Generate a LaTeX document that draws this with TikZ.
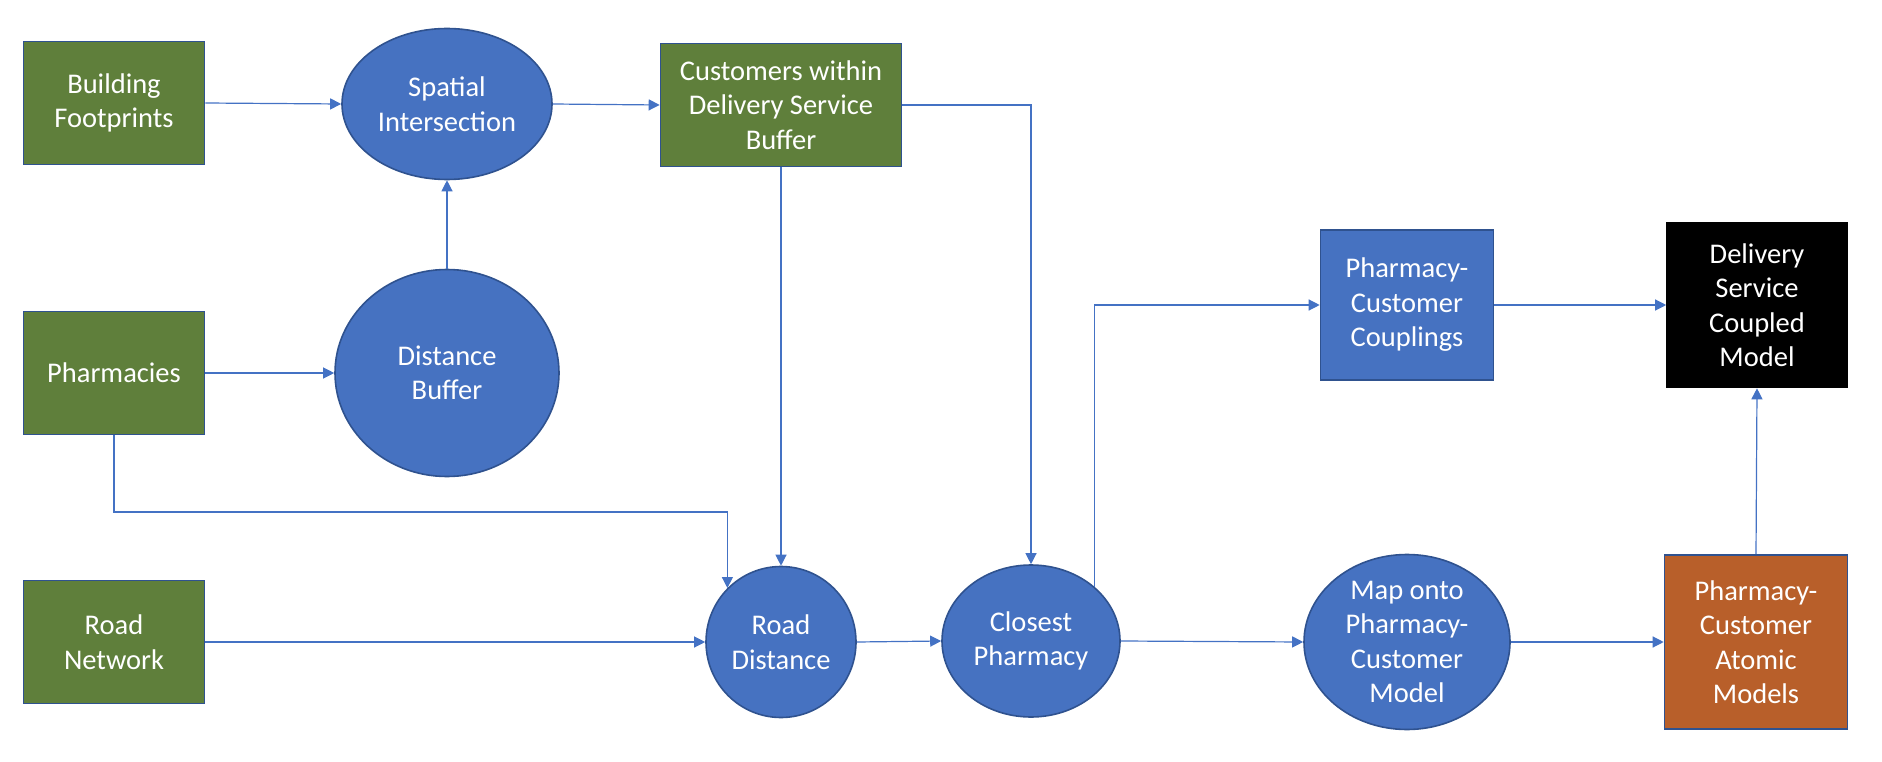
\documentclass[tikz,border=0pt]{standalone}
\usepackage{fontspec}
\setmainfont{Carlito}
\usetikzlibrary{shapes.geometric,arrows.meta}
\definecolor{nodeblue}{HTML}{4672C1}
\definecolor{edgeblue}{HTML}{2F528F}
\definecolor{linkblue}{HTML}{4472C4}
\definecolor{datagreen}{HTML}{5F7F3B}
\definecolor{modelorange}{HTML}{B85F2A}
\tikzset{
  base/.style={draw=edgeblue, line width=1.6pt, text=white, align=center, inner sep=0pt,
    font=\fontsize{28.5}{34.5}\selectfont},
  databox/.style={base, rectangle, fill=datagreen},
  procbox/.style={base, rectangle, fill=nodeblue},
  proc/.style={base, ellipse, fill=nodeblue},
  blackbox/.style={base, rectangle, fill=black, draw=black},
  orangebox/.style={base, rectangle, fill=modelorange},
  conn/.style={draw=linkblue, line width=1.2pt, -{Triangle[length=11pt,width=11pt]}},
}
\begin{document}
\begin{tikzpicture}[x=1pt,y=-1pt]
\useasboundingbox (0,0) rectangle (1882,762);
% data boxes
\node[databox, minimum width=181pt, minimum height=123pt] (bf) at (114,103) {Building\\Footprints};
\node[databox, minimum width=181pt, minimum height=123pt] (ph) at (114,373) {Pharmacies};
\node[databox, minimum width=181pt, minimum height=123pt] (rn) at (114,642) {Road\\Network};
\node[databox, minimum width=241pt, minimum height=123pt] (cust) at (781,105) {Customers within\\Delivery Service\\Buffer};
% processes
\node[proc, minimum width=210pt, minimum height=151pt] (si) at (447,104) {Spatial\\Intersection};
\node[proc, minimum width=224pt, minimum height=207pt] (db) at (447,373) {Distance\\Buffer};
\node[proc, minimum width=150pt, minimum height=151pt] (rd) at (781,642) {Road\\Distance};
\node[proc, minimum width=178pt, minimum height=152pt] (cp) at (1031,641) {Closest\\Pharmacy};
\node[proc, minimum width=206pt, minimum height=175pt, inner ysep=-6pt] (map) at (1407,642) {Map onto\\Pharmacy-\\Customer\\Model};
% outputs
\node[procbox, minimum width=173pt, minimum height=150pt] (coup) at (1407,305) {Pharmacy-\\Customer\\Couplings};
\node[blackbox, minimum width=180pt, minimum height=165pt] (dsc) at (1757,305) {Delivery\\Service\\Coupled\\Model};
\node[orangebox, minimum width=183pt, minimum height=174pt] (atom) at (1756,642) {Pharmacy-\\Customer\\Atomic\\Models};
% connectors
\draw[conn] (bf.east) -- (si.west);
\draw[conn] (si.east) -- (cust.west);
\draw[conn] (db.north) -- (si.south);
\draw[conn] (ph.east) -- (db.west);
\draw[conn] (ph.south) |- (rd.north west |- 0,512) -- (rd.north west);
\draw[conn] (cust.south) -- (rd.north);
\draw[conn] (cust.east) -| (cp.north);
\draw[conn] (rn.east) -- (rd.west);
\draw[conn] (rd.east) -- (cp.west);
\draw[conn] (cp.north east) |- (coup.west);
\draw[conn] (cp.east) -- (map.west);
\draw[conn] (coup.east) -- (dsc.west);
\draw[conn] (map.east) -- (atom.west);
\draw[conn] (atom.north) -- (dsc.south);
\end{tikzpicture}
\end{document}
